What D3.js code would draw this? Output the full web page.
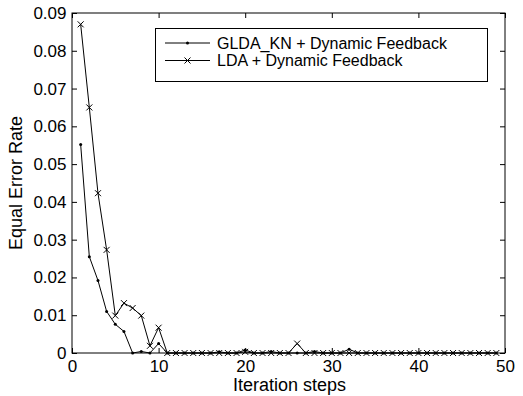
<!DOCTYPE html>
<html>
<head>
<meta charset="utf-8">
<script src="https://cdn.jsdelivr.net/npm/d3@7/dist/d3.min.js"></script>
<style>
  html, body { margin: 0; padding: 0; background: #fff; }
  svg { display: block; font-family: "Liberation Sans", Arial, sans-serif; }
</style>
</head>
<body>
<svg id="chart" width="523" height="396"></svg>
<script>
const steps = d3.range(1, 50);

// GLDA_KN + Dynamic Feedback (dot markers)
const gldaValues = [
  0.0552, 0.0255, 0.0192, 0.0110, 0.0076, 0.0057, 0.0000, 0.0004, 0.0000, 0.0025,
  0, 0, 0, 0, 0, 0, 0.0003, 0, 0, 0.0008,
  0, 0, 0.0004, 0, 0, 0, 0, 0.0004, 0, 0,
  0, 0.0010, 0, 0, 0, 0, 0, 0, 0, 0,
  0, 0, 0, 0, 0, 0, 0, 0, 0
];

// LDA + Dynamic Feedback (x markers)
const ldaValues = [
  0.0870, 0.0650, 0.0423, 0.0273, 0.0099, 0.0132, 0.0119, 0.0099, 0.0019, 0.0067,
  0, 0, 0, 0, 0, 0, 0, 0, 0, 0.0003,
  0, 0, 0, 0, 0, 0.0025, 0, 0, 0, 0,
  0, 0, 0, 0, 0, 0, 0, 0, 0, 0,
  0, 0, 0, 0, 0, 0, 0, 0, 0
];

const xTicks = [0, 10, 20, 30, 40, 50];
const yTicks = [0, 0.01, 0.02, 0.03, 0.04, 0.05, 0.06, 0.07, 0.08, 0.09];
const legendLabels = ["GLDA_KN + Dynamic Feedback", "LDA + Dynamic Feedback"];

const svg = d3.select("#chart");
const plotLeft = 72, plotRight = 505, plotTop = 13, plotBottom = 353;

const x = d3.scaleLinear().domain([0, 50]).range([plotLeft, plotRight]);
const y = d3.scaleLinear().domain([0, 0.09]).range([plotBottom, plotTop]);

const tickFont = 17;
const legendFont = 16;
const labelFont = 18;

// axes (MATLAB-style box with inward ticks on all sides)
svg.append("g")
  .attr("transform", `translate(0,${plotBottom})`)
  .call(d3.axisBottom(x).tickValues(xTicks).tickSize(-5).tickPadding(7).tickFormat(d3.format("d")))
  .call((g) => g.select(".domain").remove());

svg.append("g")
  .attr("transform", `translate(0,${plotTop})`)
  .call(d3.axisTop(x).tickValues(xTicks).tickSize(-5).tickFormat(""))
  .call((g) => g.select(".domain").remove());

svg.append("g")
  .attr("transform", `translate(${plotLeft},0)`)
  .call(d3.axisLeft(y).tickValues(yTicks).tickSize(-5).tickPadding(5.5)
    .tickFormat((d) => (d === 0 ? "0" : d3.format(".2f")(d))))
  .call((g) => g.select(".domain").remove());

svg.append("g")
  .attr("transform", `translate(${plotRight},0)`)
  .call(d3.axisRight(y).tickValues(yTicks).tickSize(-5).tickFormat(""))
  .call((g) => g.select(".domain").remove());

svg.selectAll(".tick line").attr("stroke", "#000").attr("stroke-width", 1);
svg.selectAll(".tick text")
  .attr("font-size", tickFont)
  .attr("font-family", "Liberation Sans, Arial, sans-serif")
  .attr("fill", "#000");

svg.append("rect")
  .attr("x", plotLeft).attr("y", plotTop)
  .attr("width", plotRight - plotLeft).attr("height", plotBottom - plotTop)
  .attr("fill", "none").attr("stroke", "#000").attr("stroke-width", 1);

// axis labels
svg.append("text")
  .attr("x", (plotLeft + plotRight) / 2 + 1).attr("y", 391)
  .attr("text-anchor", "middle").attr("font-size", labelFont)
  .text("Iteration steps");

svg.append("text")
  .attr("transform", `translate(22,${(plotTop + plotBottom) / 2}) rotate(-90)`)
  .attr("text-anchor", "middle").attr("font-size", labelFont)
  .text("Equal Error Rate");

// series
const line = d3.line().x((d) => x(d[0])).y((d) => y(d[1]));
const glda = steps.map((s, i) => [s, gldaValues[i]]);
const lda = steps.map((s, i) => [s, ldaValues[i]]);

function drawX(g, cx, cy, r) {
  g.append("path")
    .attr("d", `M${cx - r},${cy - r}L${cx + r},${cy + r}M${cx - r},${cy + r}L${cx + r},${cy - r}`)
    .attr("stroke", "#000").attr("stroke-width", 1).attr("fill", "none");
}

const plot = svg.append("g");

plot.append("path").datum(lda).attr("d", line)
  .attr("fill", "none").attr("stroke", "#000").attr("stroke-width", 1);
lda.forEach((d) => drawX(plot, x(d[0]), y(d[1]), 3));

plot.append("path").datum(glda).attr("d", line)
  .attr("fill", "none").attr("stroke", "#000").attr("stroke-width", 1);
plot.selectAll("circle.glda").data(glda).join("circle")
  .attr("class", "glda")
  .attr("cx", (d) => x(d[0])).attr("cy", (d) => y(d[1]))
  .attr("r", 1.5).attr("fill", "#000");

// legend
const legend = svg.append("g");
legend.append("rect")
  .attr("x", 155.5).attr("y", 28.5).attr("width", 332).attr("height", 53)
  .attr("fill", "#fff").attr("stroke", "#000").attr("stroke-width", 1);

legendLabels.forEach((label, i) => {
  const ly = 43 + i * 17.5;
  legend.append("line")
    .attr("x1", 165).attr("x2", 210).attr("y1", ly).attr("y2", ly)
    .attr("stroke", "#000").attr("stroke-width", 1);
  if (i === 0) {
    legend.append("circle").attr("cx", 187.5).attr("cy", ly).attr("r", 1.5).attr("fill", "#000");
  } else {
    drawX(legend, 187.5, ly, 3);
  }
  legend.append("text")
    .attr("x", 217).attr("y", ly + 5.8)
    .attr("font-size", legendFont)
    .text(label);
});
</script>
</body>
</html>
